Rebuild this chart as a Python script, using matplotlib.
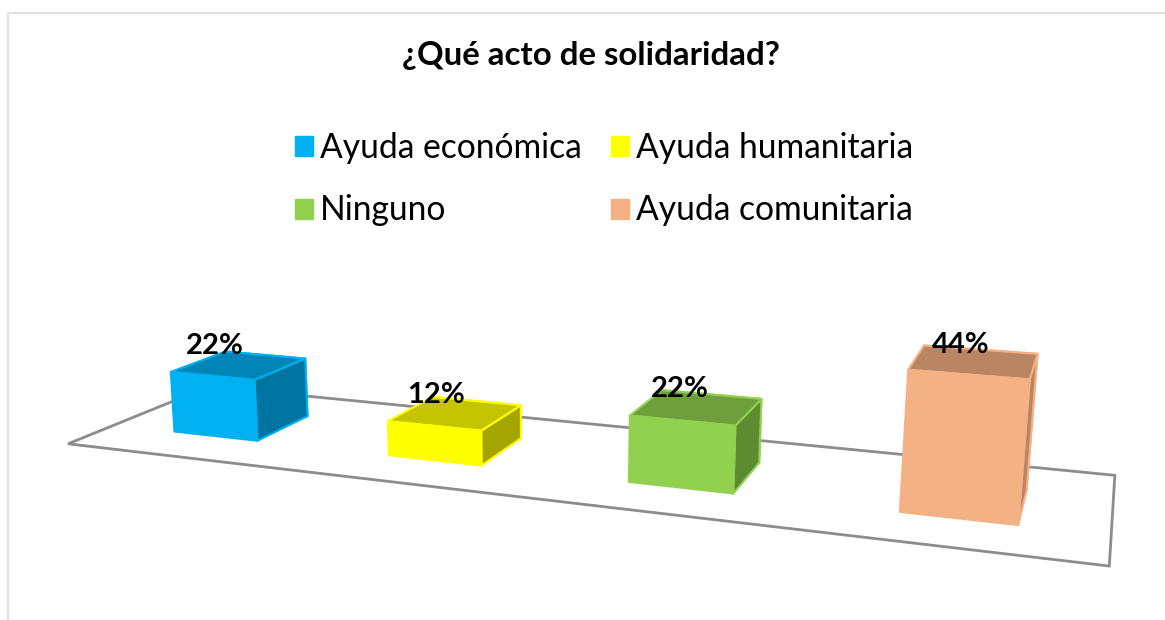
import numpy as np
import matplotlib
matplotlib.use("Agg")
import matplotlib.pyplot as plt
from matplotlib.patches import Polygon, Patch

# ---- data ----
title = "¿Qué acto de solidaridad?"
categories = ["Ayuda económica", "Ayuda humanitaria", "Ninguno", "Ayuda comunitaria"]
values = [22, 12, 22, 44]
labels = ["22%", "12%", "22%", "44%"]

# ---- style ----
front_colors = ["#00B0F0", "#FFFF00", "#92D050", "#F4B183"]
top_colors = ["#0085B6", "#C4C400", "#6F9E3C", "#B98562"]
side_colors = ["#0074A0", "#A5A500", "#5E8A32", "#B98562"]
floor_color = "#8C8C8C"
frame_color = "#E2E2E2"
label_dx = [-24, -20, -17, -14]
label_dy = [-19, -19, -19, -17]

# ---- camera calibration: seen image positions of the chart's 3D box ----
GAP_LO, GAP_HI = 0.3, 0.7
bar_refs = [
    # FTL, FTR, BTR, BTL, FBL, FBR, BBR
    [(170, 372), (256, 379), (307, 358), (225, 352), (174, 432), (258, 441), (309, 416)],
    [(388, 421), (482, 429), (522, 405), (425, 398), (388, 456), (482, 466), (522, 438)],
    [(629, 415), (736, 425), (762, 399), (663, 392), (628, 483), (734, 494), (760, 462)],
    [(907, 370), (1030, 379), (1038, 354), (924, 346), (899, 513), (1019, 526), (1027, 488)],
]
floor_refs = [((0, 0, 0), (68, 443)), ((4, 0, 0), (1109, 566)), ((4, 1, 0), (1114, 475))]


def bar_corners(i, v):
    x0, x1 = i + GAP_LO, i + GAP_HI
    y0, y1 = GAP_LO, GAP_HI
    return [(x0, y0, v), (x1, y0, v), (x1, y1, v), (x0, y1, v),
            (x0, y0, 0), (x1, y0, 0), (x1, y1, 0), (x0, y1, 0)]


pairs = list(floor_refs)
for i, v in enumerate(values):
    pairs += list(zip(bar_corners(i, v)[:7], bar_refs[i]))

A, b = [], []
for (X, Y, Z), (u, w) in pairs:
    A.append([X, Y, Z, 1, 0, 0, 0, 0, -u * X, -u * Y, -u * Z])
    b.append(u)
    A.append([0, 0, 0, 0, X, Y, Z, 1, -w * X, -w * Y, -w * Z])
    b.append(w)
p = np.linalg.lstsq(np.array(A, float), np.array(b, float), rcond=None)[0]
P = np.append(p, 1.0).reshape(3, 4)


def project(pt):
    h = P @ np.array([*pt, 1.0])
    return h[0] / h[2], h[1] / h[2]


# ---- figure ----
plt.rcParams["font.family"] = ["Lato", "DejaVu Sans"]
fig = plt.figure(figsize=(11.65, 6.2), dpi=100, facecolor="white")
ax = fig.add_axes([0, 0, 1, 1])
ax.set_xlim(0, 1165)
ax.set_ylim(620, 0)
ax.axis("off")

# chart frame (top and left edges only are visible)
ax.plot([8, 8, 1165], [620, 13, 13], color=frame_color, lw=1.6, solid_capstyle="butt")

# floor
floor = [project(c) for c in [(0, 0, 0), (4, 0, 0), (4, 1, 0), (0, 1, 0)]]
ax.add_patch(Polygon(floor, closed=True, fill=False, edgecolor=floor_color, lw=2.0, zorder=1))

# bars
for i, v in enumerate(values):
    c = [project(k) for k in bar_corners(i, v)]
    faces = [
        ([c[2], c[3], c[7], c[6]], side_colors[i]),
        ([c[1], c[2], c[6], c[5]], side_colors[i]),
        ([c[0], c[1], c[2], c[3]], top_colors[i]),
        ([c[0], c[1], c[5], c[4]], front_colors[i]),
    ]
    for pts, col in faces:
        ax.add_patch(Polygon(pts, closed=True, facecolor=col,
                             edgecolor=front_colors[i], lw=1.5, zorder=2 + i, joinstyle="round"))
    tx = np.mean([c[n][0] for n in range(4)]) + label_dx[i]
    ty = np.mean([c[n][1] for n in range(4)]) + label_dy[i]
    ax.text(tx, ty, labels[i], ha="center", va="center", fontsize=21,
            fontweight="bold", color="black", zorder=10)

# title
ax.text(591, 55, title, ha="center", va="center", fontsize=23.8, fontweight="bold", color="black")

# legend
px = 72 / fig.dpi
fs = 24.2
handles = [Patch(facecolor=front_colors[j], edgecolor=front_colors[j], label=categories[j])
           for j in [0, 2, 1, 3]]
fs_px = fs / px
ax.legend(handles=handles, ncol=2, frameon=False, fontsize=fs,
          loc="upper left", bbox_to_anchor=(295, 132), bbox_transform=ax.transData,
          borderpad=0, borderaxespad=0, handlelength=18 / fs_px, handleheight=18 / fs_px,
          handletextpad=7 / fs_px, columnspacing=29 / fs_px, labelspacing=30.5 / fs_px,
          labelcolor="black")

fig.savefig("out.png", dpi=100)
